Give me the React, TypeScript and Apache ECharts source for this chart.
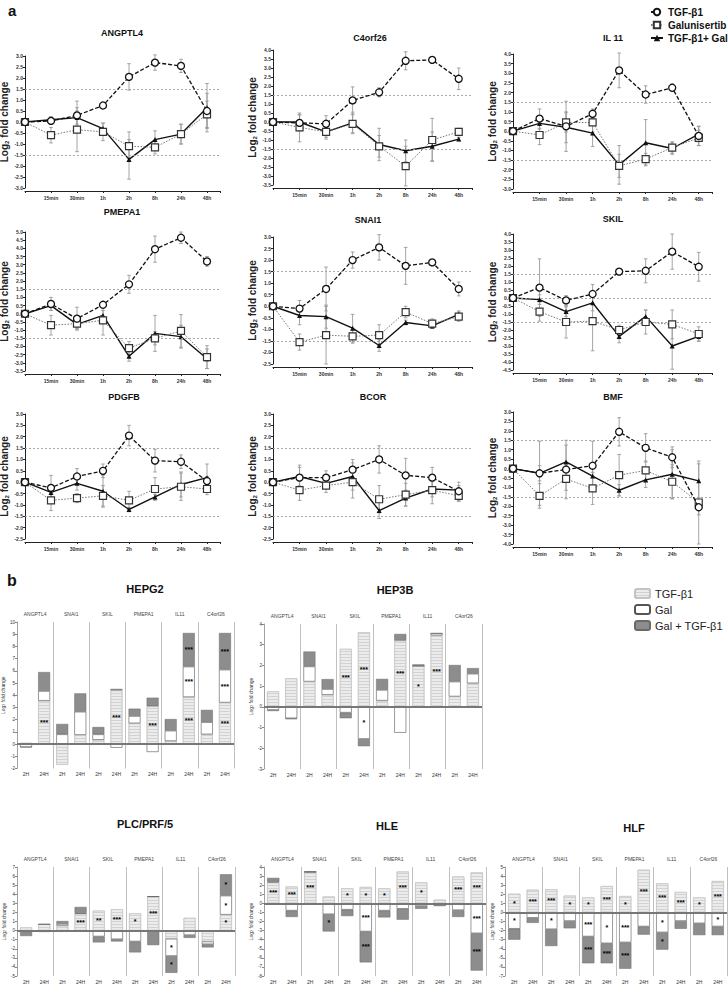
import React, { useEffect, useRef } from "react";
import * as echarts from "echarts";

const FONT = '"Liberation Sans", Arial, Helvetica, sans-serif';

// ---------- Panel a: time course ----------
const TIME_LABELS = ["", "15min", "30min", "1h", "2h", "8h", "24h", "48h"];

const ANGPTL4_TGF = [0, 0.05, 0.3, 0.75, 2.05, 2.7, 2.55, 0.5];
const ANGPTL4_TGF_ERR = [0, 0.15, 0.65, 0.1, 0.6, 0.35, 0.3, 0.8];
const ANGPTL4_GAL = [0, -0.6, -0.35, -0.45, -1.1, -1.15, -0.55, 0.35];
const ANGPTL4_GAL_ERR = [0, 0.35, 1.0, 0.4, 0.65, 0.3, 0.45, 0.6];
const ANGPTL4_COMBO = [0, 0.1, 0.2, -0.3, -1.7, -0.8, -0.55, 0.65];
const ANGPTL4_COMBO_ERR = [0, 0.15, 0.3, 0.25, 0.9, 0.4, 0.45, 1.1];

const C4ORF26_TGF = [0, -0.05, -0.1, 1.2, 1.65, 3.4, 3.45, 2.4];
const C4ORF26_TGF_ERR = [0, 0.45, 0.45, 0.75, 0.25, 0.5, 0.15, 0.6];
const C4ORF26_GAL = [0, -0.3, -0.55, -0.1, -1.35, -2.45, -1.0, -0.55];
const C4ORF26_GAL_ERR = [0, 0.8, 0.4, 0.5, 0.6, 1.1, 1.2, 0.2];
const C4ORF26_COMBO = [0, 0, -0.55, -0.05, -1.25, -1.6, -1.35, -0.95];
const C4ORF26_COMBO_ERR = [0, 0.4, 0.3, 0.6, 0.9, 0.6, 0.8, 0.1];

const IL11_TGF = [0, 0.65, 0.25, 0.9, 3.15, 1.9, 2.25, -0.25];
const IL11_TGF_ERR = [0, 0.5, 1.3, 0.25, 0.9, 0.45, 0.2, 0.5];
const IL11_GAL = [0, -0.2, 0.45, 0.45, -1.8, -1.45, -0.85, -0.35];
const IL11_GAL_ERR = [0, 0.5, 0.5, 0.5, 0.6, 0.3, 0.3, 0.4];
const IL11_COMBO = [0, 0.4, 0.2, -0.1, -1.75, -0.6, -0.9, -0.15];
const IL11_COMBO_ERR = [0, 0.3, 0.8, 0.7, 1.0, 1.2, 0.3, 0.4];

const PMEPA1_TGF = [0, 0.6, -0.3, 0.55, 1.8, 3.95, 4.65, 3.2];
const PMEPA1_TGF_ERR = [0, 0.4, 0.7, 0.2, 0.55, 0.8, 0.35, 0.3];
const PMEPA1_GAL = [0, -0.7, -0.6, -0.4, -2.1, -1.5, -1.05, -2.65];
const PMEPA1_GAL_ERR = [0, 0.6, 0.3, 0.9, 0.4, 0.4, 1.0, 0.7];
const PMEPA1_COMBO = [0, 0.5, -0.65, -0.1, -2.6, -1.2, -1.4, -2.75];
const PMEPA1_COMBO_ERR = [0, 0.3, 0.3, 0.3, 0.3, 1.1, 0.7, 0.6];

const SNAI1_TGF = [0, -0.1, 0.75, 2.0, 2.55, 1.75, 1.9, 0.75];
const SNAI1_TGF_ERR = [0, 0.35, 0.95, 0.35, 0.55, 0.8, 0.05, 0.3];
const SNAI1_GAL = [0, -1.55, -1.25, -1.3, -1.25, -0.25, -0.75, -0.45];
const SNAI1_GAL_ERR = [0, 0.35, 1.25, 0.3, 0.45, 0.25, 0.2, 0.2];
const SNAI1_COMBO = [0, -0.4, -0.45, -0.95, -1.7, -0.7, -0.85, -0.35];
const SNAI1_COMBO_ERR = [0, 0.4, 0.5, 0.6, 0.25, 0.1, 0.1, 0.15];

const SKIL_TGF = [0, 0.65, -0.15, 0.25, 1.65, 1.7, 2.9, 1.95];
const SKIL_TGF_ERR = [0, 1.8, 0.3, 0.6, 0.1, 0.75, 1.1, 0.9];
const SKIL_GAL = [0, -0.85, -1.5, -1.45, -2.0, -1.5, -1.65, -2.25];
const SKIL_GAL_ERR = [0, 0.6, 1.0, 1.85, 0.3, 0.75, 0.9, 0.45];
const SKIL_COMBO = [0, -0.1, -0.85, -0.3, -2.4, -1.15, -3.0, -2.4];
const SKIL_COMBO_ERR = [0, 0.3, 0.3, 0.5, 0.4, 0.4, 1.45, 0.3];

const PDGFB_TGF = [0, -0.25, 0.25, 0.5, 2.05, 0.95, 0.9, 0.05];
const PDGFB_TGF_ERR = [0, 0.55, 0.35, 0.3, 0.45, 0.5, 0.3, 0.2];
const PDGFB_GAL = [0, -0.8, -0.7, -0.6, -0.8, -0.3, -0.2, -0.3];
const PDGFB_GAL_ERR = [0, 0.45, 0.2, 0.45, 0.4, 0.5, 0.6, 0.25];
const PDGFB_COMBO = [0, -0.45, -0.05, -0.4, -1.2, -0.65, -0.1, 0.2];
const PDGFB_COMBO_ERR = [0, 0.3, 0.3, 0.7, 0.1, 0.1, 0.55, 0.6];

const BCOR_TGF = [0, 0.2, 0.2, 0.55, 1.0, 0.3, 0.2, -0.4];
const BCOR_TGF_ERR = [0, 0.55, 0.3, 0.45, 0.6, 0.75, 0.45, 0.4];
const BCOR_GAL = [0, -0.35, -0.15, 0.0, -0.75, -0.55, -0.35, -0.6];
const BCOR_GAL_ERR = [0, 0.45, 0.3, 0.7, 0.6, 0.5, 0.6, 0.25];
const BCOR_COMBO = [0, 0.25, -0.05, 0.25, -1.25, -0.7, -0.3, -0.35];
const BCOR_COMBO_ERR = [0, 0.4, 0.2, 0.6, 0.35, 0.35, 0.35, 0.2];

const BMF_TGF = [0, -0.25, -0.05, 0.15, 1.95, 1.1, 0.6, -2.05];
const BMF_TGF_ERR = [0, 1.7, 1.55, 1.3, 0.75, 0.75, 0.55, 0.4];
const BMF_GAL = [0, -1.45, -0.55, -1.05, -0.35, -0.1, -0.7, -1.8];
const BMF_GAL_ERR = [0, 0.65, 0.6, 0.85, 1.1, 0.5, 0.9, 2.2];
const BMF_COMBO = [0, -0.25, 0.35, -0.4, -1.15, -0.6, -0.3, -0.65];
const BMF_COMBO_ERR = [0, 0.4, 0.9, 0.5, 0.3, 0.4, 1.3, 0.9];

// ---------- Panel b: stacked bars ----------
const GENES_B = ["ANGPTL4", "SNAI1", "SKIL", "PMEPA1", "IL11", "C4orf26"];
const TIMES_B = ["2H", "24H"];

const HEPG2_TGF = [0.1, 3.55, -1.7, 0.75, 0.35, 4.4, 1.7, 3.1, 0.25, 3.85, 0.8, 3.4];
const HEPG2_GAL = [-0.25, 0.8, 0.8, 1.9, 0.45, -0.3, 0.6, -0.65, 0.85, 2.5, 1.0, 2.7];
const HEPG2_COMBO = [0, 1.55, 0.85, 1.5, 0.6, 0.12, 0.6, 0.7, 0.95, 2.75, 1.0, 3.0];
const HEPG2_TGF_STARS = ["", "***", "", "", "", "***", "", "***", "", "***", "", "***"];
const HEPG2_GAL_STARS = ["", "", "", "", "", "", "", "", "", "***", "", "***"];
const HEPG2_COMBO_STARS = ["", "", "", "", "", "", "", "", "", "***", "", "***"];

const HEP3B_TGF = [0.75, 1.38, 1.22, 0.58, 2.8, 3.6, 0.3, 3.2, 1.98, 3.45, 0.5, 1.14];
const HEP3B_GAL = [-0.15, -0.55, 0.73, 0.28, -0.28, -1.55, 0.52, -1.25, 0, 0.1, 0.72, 0.46];
const HEP3B_COMBO = [-0.05, -0.05, 0.72, 0.48, -0.27, -0.35, 0.53, 0.32, 0.07, 0, 0.8, 0.27];
const HEP3B_TGF_STARS = ["", "", "", "", "***", "***", "", "***", "*", "***", "", ""];
const HEP3B_GAL_STARS = ["", "", "", "", "", "*", "", "", "", "", "", ""];
const HEP3B_COMBO_STARS = ["", "", "", "", "", "", "", "", "", "", "", ""];

const PLC_TGF = [0.35, 0.7, 0.55, 1.85, 2.2, 2.35, 1.9, 3.75, -0.9, 1.4, -1.2, 1.75];
const PLC_GAL = [-0.1, 0, 0.2, 0.1, -0.65, -0.95, -1.2, 0, -1.9, -0.5, -0.3, 2.1];
const PLC_COMBO = [-0.5, -0.15, 0.3, 0.65, -0.65, -0.25, -1.2, -1.6, -1.85, -0.3, -0.35, 2.35];
const PLC_TGF_STARS = ["", "", "", "***", "**", "***", "*", "***", "", "", "", "*"];
const PLC_GAL_STARS = ["", "", "", "", "", "", "", "", "*", "", "", "*"];
const PLC_COMBO_STARS = ["", "", "", "", "", "", "", "", "*", "", "", "*"];

const HLE_TGF = [2.3, 1.85, 3.45, 0.75, 1.65, 1.8, 1.65, 3.5, 2.3, 0.4, 2.95, 3.4];
const HLE_GAL = [0.1, -0.8, 0, -1.2, -0.7, -3.1, -0.8, -0.6, -0.3, -0.15, -0.75, -3.3];
const HLE_COMBO = [0.4, -0.7, 0.08, -1.9, -0.7, -3.4, -0.75, -1.2, -0.3, -0.15, -0.75, -4.1];
const HLE_TGF_STARS = ["***", "***", "***", "", "*", "*", "*", "***", "*", "", "***", "***"];
const HLE_GAL_STARS = ["", "", "", "", "", "***", "", "", "", "", "", "***"];
const HLE_COMBO_STARS = ["", "", "", "*", "", "***", "", "", "", "", "", "***"];

const HLF_TGF = [2.05, 2.5, 2.55, 1.85, 1.65, 2.9, 1.8, 4.7, 3.2, 2.25, 1.65, 3.45];
const HLF_GAL = [-1.8, -0.6, -1.85, -0.95, -2.65, -3.4, -3.3, -1.55, -2.2, -0.95, -1.2, -1.55];
const HLF_COMBO = [-1.2, -0.55, -1.85, -0.8, -2.95, -2.2, -2.9, -0.9, -1.9, -0.85, -1.3, -0.95];
const HLF_TGF_STARS = ["*", "***", "***", "*", "*", "***", "*", "***", "***", "***", "*", "***"];
const HLF_GAL_STARS = ["*", "", "*", "", "***", "*", "***", "", "*", "", "", "*"];
const HLF_COMBO_STARS = ["", "", "", "", "***", "***", "***", "", "*", "", "", ""];

// ---------- layout (positions only) ----------
const LINE_PANELS = [
  { title: "ANGPTL4", tx: 122, ty: 33, left: 25, top: 56, width: 195, height: 132, min: -3, max: 3, refs: [1.5, -1.5],
    d: [ANGPTL4_TGF, ANGPTL4_TGF_ERR, ANGPTL4_GAL, ANGPTL4_GAL_ERR, ANGPTL4_COMBO, ANGPTL4_COMBO_ERR] },
  { title: "C4orf26", tx: 370, ty: 38, left: 273, top: 50, width: 199, height: 135, min: -3.5, max: 4, refs: [1.5, -1.5],
    d: [C4ORF26_TGF, C4ORF26_TGF_ERR, C4ORF26_GAL, C4ORF26_GAL_ERR, C4ORF26_COMBO, C4ORF26_COMBO_ERR] },
  { title: "IL 11", tx: 613, ty: 38, left: 513, top: 54, width: 199, height: 135, min: -3, max: 4, refs: [1.5, -1.5],
    d: [IL11_TGF, IL11_TGF_ERR, IL11_GAL, IL11_GAL_ERR, IL11_COMBO, IL11_COMBO_ERR] },
  { title: "PMEPA1", tx: 122, ty: 212, left: 25, top: 232, width: 195, height: 139, min: -3.5, max: 5, refs: [1.5, -1.5],
    d: [PMEPA1_TGF, PMEPA1_TGF_ERR, PMEPA1_GAL, PMEPA1_GAL_ERR, PMEPA1_COMBO, PMEPA1_COMBO_ERR] },
  { title: "SNAI1", tx: 368, ty: 220, left: 273, top: 237, width: 199, height: 127, min: -2.5, max: 3, refs: [1.5, -1.5],
    d: [SNAI1_TGF, SNAI1_TGF_ERR, SNAI1_GAL, SNAI1_GAL_ERR, SNAI1_COMBO, SNAI1_COMBO_ERR] },
  { title: "SKIL", tx: 613, ty: 219, left: 513, top: 234, width: 199, height: 136, min: -4.5, max: 4, refs: [1.5, 0, -1.5],
    d: [SKIL_TGF, SKIL_TGF_ERR, SKIL_GAL, SKIL_GAL_ERR, SKIL_COMBO, SKIL_COMBO_ERR] },
  { title: "PDGFB", tx: 124, ty: 397, left: 25, top: 414, width: 195, height: 125, min: -2.5, max: 3, refs: [1.5, -1.5],
    d: [PDGFB_TGF, PDGFB_TGF_ERR, PDGFB_GAL, PDGFB_GAL_ERR, PDGFB_COMBO, PDGFB_COMBO_ERR] },
  { title: "BCOR", tx: 373, ty: 397, left: 273, top: 414, width: 199, height: 125, min: -2.5, max: 3, refs: [1.5, -1.5],
    d: [BCOR_TGF, BCOR_TGF_ERR, BCOR_GAL, BCOR_GAL_ERR, BCOR_COMBO, BCOR_COMBO_ERR] },
  { title: "BMF", tx: 613, ty: 397, left: 513, top: 412, width: 199, height: 132, min: -4, max: 3, refs: [1.5, -1.5],
    d: [BMF_TGF, BMF_TGF_ERR, BMF_GAL, BMF_GAL_ERR, BMF_COMBO, BMF_COMBO_ERR] },
];

const BAR_PANELS = [
  { title: "HEPG2", tx: 145, ty: 589, left: 17, top: 622, width: 217, height: 146.5, min: -2, max: 10,
    d: [HEPG2_TGF, HEPG2_GAL, HEPG2_COMBO], s: [HEPG2_TGF_STARS, HEPG2_GAL_STARS, HEPG2_COMBO_STARS] },
  { title: "HEP3B", tx: 395, ty: 590, left: 264, top: 624, width: 218, height: 145, min: -3, max: 4,
    d: [HEP3B_TGF, HEP3B_GAL, HEP3B_COMBO], s: [HEP3B_TGF_STARS, HEP3B_GAL_STARS, HEP3B_COMBO_STARS] },
  { title: "PLC/PRF/5", tx: 145, ty: 824, left: 17, top: 867, width: 218, height: 109, min: -5, max: 7,
    d: [PLC_TGF, PLC_GAL, PLC_COMBO], s: [PLC_TGF_STARS, PLC_GAL_STARS, PLC_COMBO_STARS] },
  { title: "HLE", tx: 387, ty: 826, left: 264, top: 867, width: 222, height: 109, min: -8, max: 4,
    d: [HLE_TGF, HLE_GAL, HLE_COMBO], s: [HLE_TGF_STARS, HLE_GAL_STARS, HLE_COMBO_STARS] },
  { title: "HLF", tx: 634, ty: 828, left: 505, top: 867, width: 222, height: 109, min: -7, max: 5,
    d: [HLF_TGF, HLF_GAL, HLF_COMBO], s: [HLF_TGF_STARS, HLF_GAL_STARS, HLF_COMBO_STARS] },
];

const LINE_NAMES = ["TGF-β1", "Galunisertib", "TGF-β1+ Gal"];
const BAR_NAMES = ["TGF-β1 (b)", "Gal", "Gal + TGF-β1"];

function errRender(_params: any, api: any) {
  const x = api.value(0);
  const lo = api.coord([x, api.value(1)]);
  const hi = api.coord([x, api.value(2)]);
  const c = 1.8;
  const style = { stroke: "#9a9a9a", lineWidth: 0.9 };
  return {
    type: "group",
    children: [
      { type: "line", shape: { x1: lo[0], y1: lo[1], x2: hi[0], y2: hi[1] }, style },
      { type: "line", shape: { x1: hi[0] - c, y1: hi[1], x2: hi[0] + c, y2: hi[1] }, style },
      { type: "line", shape: { x1: lo[0] - c, y1: lo[1], x2: lo[0] + c, y2: lo[1] }, style },
    ],
  };
}

function buildOption() {
  const grid: any[] = [];
  const xAxis: any[] = [];
  const yAxis: any[] = [];
  const series: any[] = [];
  const graphic: any[] = [];

  graphic.push({ type: "text", x: 8, y: 3, style: { text: "a", font: `bold 15px ${FONT}`, fill: "#111" } });
  graphic.push({ type: "text", x: 7, y: 572, style: { text: "b", font: `bold 16px ${FONT}`, fill: "#111" } });

  const lineStyles = [
    { symbol: "circle", symbolSize: 7, itemStyle: { color: "#fff", borderColor: "#111", borderWidth: 1.3 }, lineStyle: { color: "#111", width: 1.3, type: [4, 2] } },
    { symbol: "rect", symbolSize: 7, itemStyle: { color: "#fff", borderColor: "#333", borderWidth: 1.2 }, lineStyle: { color: "#777", width: 1, type: [1.5, 1.5] } },
    { symbol: "triangle", symbolSize: 5, itemStyle: { color: "#111" }, lineStyle: { color: "#111", width: 1.4, type: "solid" } },
  ];

  LINE_PANELS.forEach((p, i) => {
    grid.push({ left: p.left, top: p.top, width: p.width, height: p.height, containLabel: false, outerBoundsMode: "none" });
    xAxis.push({
      gridIndex: i, type: "value", min: 0, max: 7.5, interval: 1, offset: 3,
      axisLine: { show: true, onZero: false, lineStyle: { color: "#222", width: 1 } },
      axisTick: { show: true, length: 2, lineStyle: { color: "#222" } },
      axisLabel: { fontSize: 5, fontWeight: "bold", color: "#333", margin: 4, fontFamily: FONT,
        formatter: (v: number) => (Number.isInteger(v) ? TIME_LABELS[v] || "" : "") },
      splitLine: { show: false },
    });
    yAxis.push({
      gridIndex: i, type: "value", min: p.min, max: p.max, interval: 0.5,
      axisLine: { show: true, lineStyle: { color: "#222", width: 1 } },
      axisTick: { show: true, length: 2, lineStyle: { color: "#222" } },
      axisLabel: { fontSize: 5, fontWeight: "bold", color: "#333", margin: 2, fontFamily: FONT, formatter: (v: number) => v.toFixed(1) },
      splitLine: { show: false },
      name: "Log{sub|2} fold change", nameLocation: "middle", nameGap: 11, nameRotate: 90,
      nameTextStyle: { fontSize: 10, fontWeight: "bold", color: "#222", fontFamily: FONT,
        rich: { sub: { fontSize: 6, fontWeight: "bold", fontFamily: FONT, color: "#222", padding: [5, 0, 0, 0] } } },
    });
    graphic.push({ type: "text", x: p.tx, y: p.ty, style: { text: p.title, font: `bold 9px ${FONT}`, fill: "#111", align: "center", verticalAlign: "middle" } });

    for (let k = 0; k < 3; k++) {
      const vals = p.d[k * 2];
      const errs = p.d[k * 2 + 1];
      const errData = vals.map((v, t) => [t, v - errs[t], v + errs[t]]).filter((_, t) => errs[t] > 0);
      series.push({
        type: "custom", name: "err" + k, xAxisIndex: i, yAxisIndex: i, renderItem: errRender,
        encode: { x: 0, y: [1, 2] }, data: errData, z: 1, silent: true, clip: false,
      });
      const st = lineStyles[k];
      const s: any = {
        type: "line", name: LINE_NAMES[k], xAxisIndex: i, yAxisIndex: i,
        data: vals.map((v, t) => [t, v]),
        symbol: st.symbol, symbolSize: st.symbolSize, showAllSymbol: true,
        itemStyle: st.itemStyle, lineStyle: st.lineStyle, z: 4 - k + 2,
      };
      if (k === 0) {
        s.markLine = {
          silent: true, symbol: ["none", "none"], label: { show: false },
          lineStyle: { color: "#a0a0a0", type: [2, 2], width: 0.9 },
          data: p.refs.map((r) => ({ yAxis: r })),
        };
      }
      series.push(s);
    }
  });

  const cats = GENES_B.flatMap((g) => TIMES_B.map((t) => g + "|" + t));
  const barStyles = [
    { color: "#ececec", borderColor: "#c4c4c4", borderWidth: 0.6,
      decal: { symbol: "rect", symbolSize: 1, color: "#d2d2d2", dashArrayX: [[10, 0]], dashArrayY: [1, 2], rotation: 0 } },
    { color: "#ffffff", borderColor: "#555", borderWidth: 0.6 },
    { color: "#8d8d8d", borderColor: "#6a6a6a", borderWidth: 0.5 },
  ];

  BAR_PANELS.forEach((p, j) => {
    const gi = LINE_PANELS.length + j;
    grid.push({ left: p.left, top: p.top, width: p.width, height: p.height, containLabel: false, outerBoundsMode: "none" });
    const xb = xAxis.length;
    xAxis.push({
      gridIndex: gi, type: "category", data: cats, position: "bottom",
      axisLine: { show: false, onZero: false }, axisTick: { show: false },
      axisLabel: { interval: 0, fontSize: 5, color: "#333", margin: 3, fontFamily: FONT, formatter: (v: string) => v.split("|")[1] },
      splitLine: { show: true, interval: (idx: number) => idx > 0 && idx % 2 === 0, lineStyle: { color: "#b0b0b0", width: 0.8 } },
    });
    xAxis.push({
      gridIndex: gi, type: "category", data: GENES_B, position: "top",
      axisLine: { show: false }, axisTick: { show: false },
      axisLabel: { interval: 0, fontSize: 5, color: "#444", margin: 6, fontFamily: FONT },
      splitLine: { show: false },
    });
    yAxis.push({
      gridIndex: gi, type: "value", min: p.min, max: p.max, interval: 1,
      axisLine: { show: true, lineStyle: { color: "#888", width: 0.8 } },
      axisTick: { show: true, length: 2, lineStyle: { color: "#888" } },
      axisLabel: { fontSize: 4.5, color: "#333", margin: 2, fontFamily: FONT },
      splitLine: { show: false },
      name: "Log{sub|2} fold change", nameLocation: "middle", nameGap: 6, nameRotate: 90,
      nameTextStyle: { fontSize: 5, color: "#333", fontFamily: FONT, rich: { sub: { fontSize: 3.5, color: "#333", padding: [2, 0, 0, 0] } } },
    });
    graphic.push({ type: "text", x: p.tx, y: p.ty, style: { text: p.title, font: `bold 11px ${FONT}`, fill: "#111", align: "center", verticalAlign: "middle" } });

    for (let k = 0; k < 3; k++) {
      const stars = p.s[k];
      const s: any = {
        type: "bar", name: BAR_NAMES[k], stack: "b" + j, xAxisIndex: xb, yAxisIndex: gi,
        data: p.d[k], barWidth: "66%", itemStyle: barStyles[k],
        label: { show: true, position: "inside", fontSize: 7, fontWeight: "bold", color: "#000", fontFamily: FONT,
          formatter: (pp: any) => stars[pp.dataIndex] || "" },
        z: 2,
      };
      if (k === 2) {
        s.markLine = {
          silent: true, symbol: ["none", "none"], label: { show: false },
          lineStyle: { color: "#777", type: "solid", width: 2 },
          data: [{ yAxis: 0 }], z: 5,
        };
      }
      series.push(s);
    }
  });

  return {
    animation: false,
    backgroundColor: "#fff",
    textStyle: { fontFamily: FONT },
    grid, xAxis, yAxis, series, graphic,
    legend: [
      {
        orient: "vertical", left: 645, top: 2, itemWidth: 12, itemHeight: 8, itemGap: 3,
        textStyle: { fontSize: 10, fontWeight: "bold", color: "#111", fontFamily: FONT },
        data: LINE_NAMES, selectedMode: false,
      },
      {
        orient: "vertical", left: 629, top: 583, itemWidth: 15, itemHeight: 9, itemGap: 5,
        textStyle: { fontSize: 11, color: "#222", fontFamily: FONT },
        data: BAR_NAMES, selectedMode: false,
        formatter: (n: string) => n.replace(" (b)", ""),
      },
    ],
  };
}

export default function App() {
  const ref = useRef<HTMLDivElement>(null);
  useEffect(() => {
    if (!ref.current) return;
    const chart = echarts.init(ref.current, undefined, { renderer: "svg", width: 728, height: 990 });
    chart.setOption(buildOption() as any);
    return () => chart.dispose();
  }, []);
  return (
    <div
      ref={ref}
      style={{ position: "absolute", left: 0, top: 0, width: 728, height: 990, background: "#fff" }}
    />
  );
}
